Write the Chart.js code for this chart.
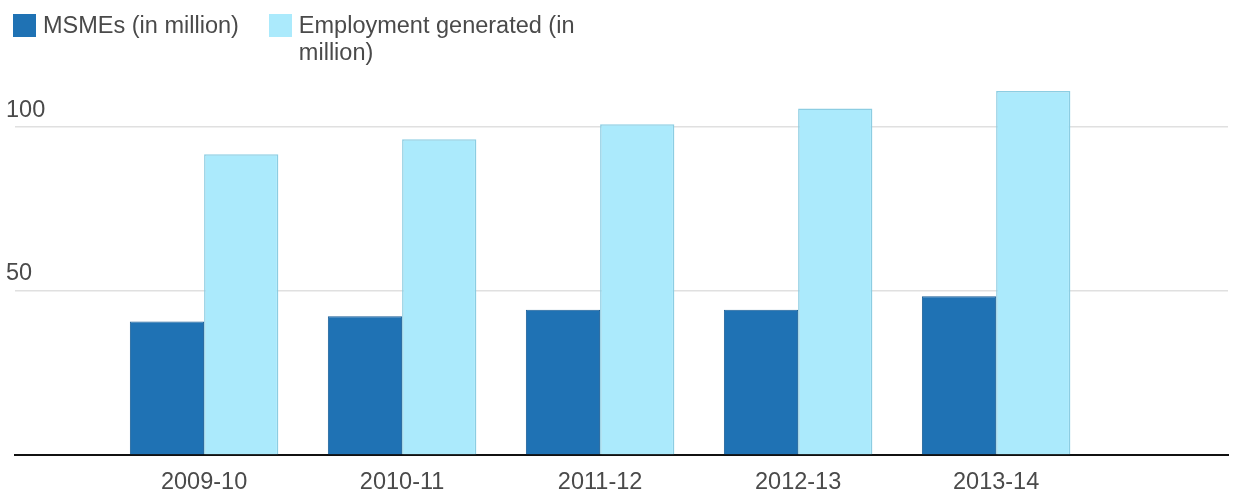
<!DOCTYPE html>
<html>
<head>
<meta charset="utf-8">
<script src="https://cdn.jsdelivr.net/npm/chart.js@4/dist/chart.umd.min.js"></script>
<style>
  html, body { margin: 0; padding: 0; background: #fff; }
  #wrap { width: 1237px; height: 493px; position: relative; }
  #legend { position: absolute; left: 13px; top: 12px; display: flex; align-items: flex-start;
            font-family: "Liberation Sans", Arial, sans-serif; font-size: 23.5px; line-height: 27px; color: #4a4a4a; }
  .item { display: flex; align-items: flex-start; margin-right: 30px; }
  .box { width: 23px; height: 23px; margin-top: 2px; margin-right: 7px; flex: none; }
</style>
</head>
<body>
<div id="wrap"><canvas id="c"></canvas><div id="legend"></div></div>
<script>
const categories = ['2009-10', '2010-11', '2011-12', '2012-13', '2013-14'];
const msmes = [40.6, 42.2, 44.2, 44.2, 48.3];
const employment = [91.7, 96.3, 100.9, 105.7, 111.0];
const yTicks = [50, 100];
const seriesNames = ['MSMEs (in million)', 'Employment generated (in<br>million)'];
const seriesColors = ['#1f72b4', '#abeafc'];

const toPoints = arr => arr.map((v, i) => ({ x: i + 1, y: v }));

// HTML legend
const lg = document.getElementById('legend');
seriesNames.forEach((n, i) => {
  const it = document.createElement('div');
  it.className = 'item';
  it.innerHTML = '<div class="box" style="background:' + seriesColors[i] + '"></div><div>' + n + '</div>';
  lg.appendChild(it);
});

Chart.defaults.font.family = '"Liberation Sans", Arial, sans-serif';
Chart.defaults.color = '#4a4a4a';

new Chart(document.getElementById('c'), {
  type: 'bar',
  data: {
    datasets: [
      {
        label: 'MSMEs (in million)',
        data: toPoints(msmes),
        backgroundColor: seriesColors[0],
        borderColor: '#185d96',
        borderWidth: 1,
        categoryPercentage: 0.75,
        barPercentage: 1.0
      },
      {
        label: 'Employment generated (in million)',
        data: toPoints(employment),
        backgroundColor: seriesColors[1],
        borderColor: '#8ccde2',
        borderWidth: 1.5,
        categoryPercentage: 0.75,
        barPercentage: 1.0
      }
    ]
  },
  options: {
    responsive: true,
    maintainAspectRatio: false,
    animation: false,
    layout: { padding: { left: 15, right: 9, top: 78, bottom: -17 } },
    plugins: {
      legend: { display: false },
      tooltip: { enabled: false }
    },
    scales: {
      x: {
        type: 'linear',
        offset: false,
        min: 0.045,
        max: 6.171,
        afterBuildTicks: s => { s.ticks = categories.map((c, i) => ({ value: i + 1 })); },
        ticks: {
          font: { size: 23.5, lineHeight: 1.0 },
          color: '#4a4a4a',
          padding: 16,
          autoSkip: false,
          maxRotation: 0,
          callback: v => categories[Math.round(v) - 1] || ''
        },
        grid: { display: false, drawTicks: false },
        border: { display: true, color: '#111', width: 2 }
      },
      y: {
        min: 0,
        max: 115,
        afterBuildTicks: s => { s.ticks = yTicks.map(v => ({ value: v })); },
        ticks: {
          mirror: true,
          padding: -3,
          labelOffset: -17,
          font: { size: 23.5 },
          color: '#4a4a4a'
        },
        grid: { color: '#e0e0e0', lineWidth: 1.5, drawTicks: false },
        border: { display: false }
      }
    }
  }
});
</script>
</body>
</html>
